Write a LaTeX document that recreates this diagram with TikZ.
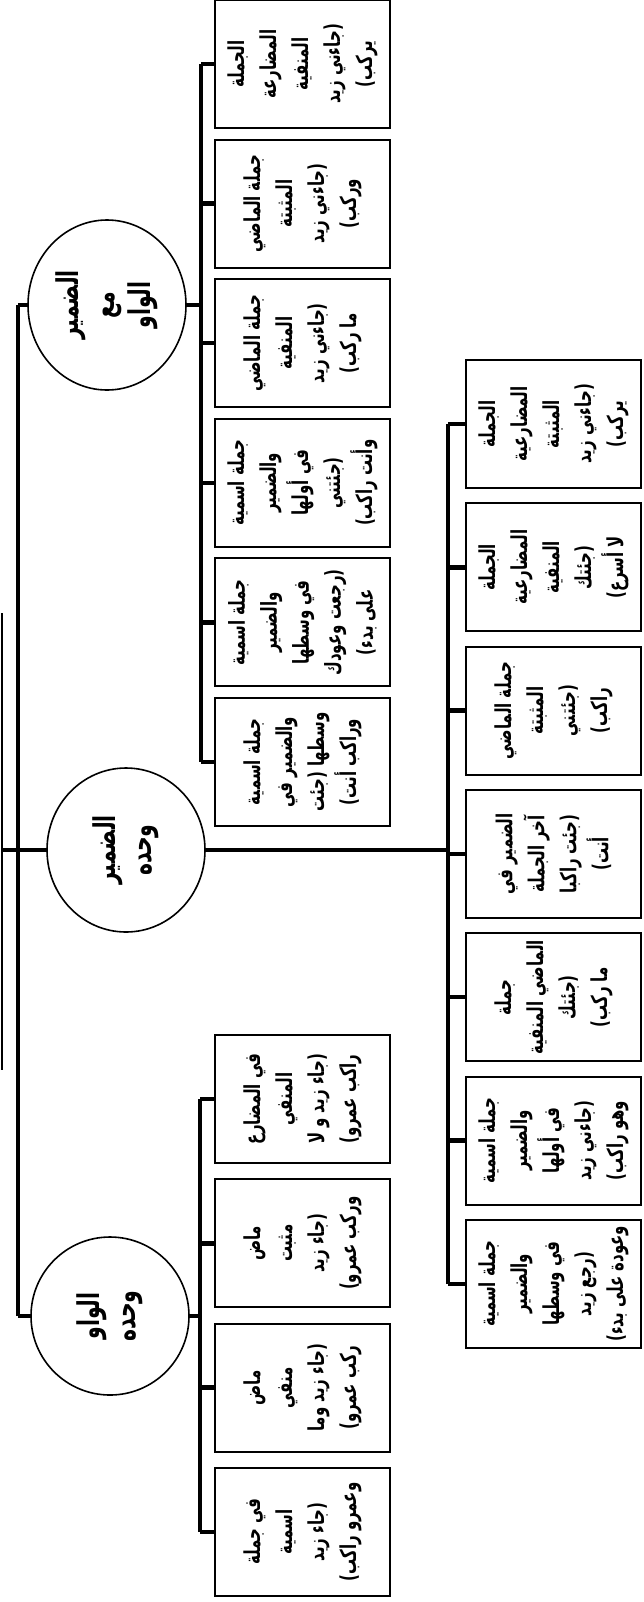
\documentclass[tikz,border=0pt]{standalone}
\usepackage{fontspec}
\newfontfamily\arabicfont[Script=Arabic,FakeStretch=0.68]{DejaVu Sans}
\TeXXeTstate=1
\usetikzlibrary{shapes.geometric,calc}
\newcommand{\arl}[1]{\beginR #1\endR}
\tikzset{BOX/.style={rectangle,draw,line width=1pt,minimum width=64pt,minimum height=87.5pt,inner sep=1pt,align=center,rotate=90,font=\arabicfont\bfseries\fontsize{11}{16}\selectfont}}
\tikzset{GROUP/.style={ellipse,draw,line width=0.8pt,minimum width=82pt,minimum height=79pt,inner sep=0pt,align=center,rotate=90,font=\arabicfont\bfseries\fontsize{15}{18}\selectfont}}
\tikzset{LINK/.style={line width=2.2pt}}

\begin{document}
\begin{tikzpicture}[x=0.5pt,y=-0.5pt]
\useasboundingbox (0,0) rectangle (643,1602);

\node[GROUP, minimum width=85pt] (n_wd) at (107,305) {\arl{الضمير}\\\arl{مع}\\\arl{الواو}};
\node[GROUP] (n_d) at (126,850) {\arl{الضمير}\\\arl{وحده}};
\node[GROUP, minimum width=79pt] (n_w) at (110,1316) {\arl{الواو}\\\arl{وحده}};

\coordinate (c_root_top) at (1.5,613);
\coordinate (c_root_bot) at (1.5,1070);
\draw[line width=1pt] (c_root_top) -- (c_root_bot);
\draw[LINK] (n_d.north -| c_root_top) -- (n_d.north);

\coordinate (c_bus) at (18,0);
\draw[LINK] (n_wd.north -| c_bus) -- (n_w.north -| c_bus);
\draw[LINK] (n_wd.north -| c_bus) -- (n_wd.north);
\draw[LINK] (n_w.north -| c_bus) -- (n_w.north);

% pronoun with waw
\node[BOX] (n_wd1) at (302.5,64) {\arl{الجملة}\\\arl{المضارعة}\\\arl{المنفية}\\\arl{(جاءني زيد}\\\arl{يركب)}};
\node[BOX] (n_wd2) at ($(n_wd1)+(0,139.6)$) {\arl{جملة الماضي}\\\arl{المثبتة}\\\arl{(جاءني زيد}\\\arl{وركب)}};
\node[BOX] (n_wd3) at ($(n_wd2)+(0,139.6)$) {\arl{جملة الماضي}\\\arl{المنفية}\\\arl{(جاءني زيد}\\\arl{ما ركب)}};
\node[BOX] (n_wd4) at ($(n_wd3)+(0,139.6)$) {\arl{جملة اسمية}\\\arl{والضمير}\\\arl{في أولها}\\\arl{(جئتني}\\\arl{وأنت راكب)}};
\node[BOX] (n_wd5) at ($(n_wd4)+(0,139.6)$) {\arl{جملة اسمية}\\\arl{والضمير}\\\arl{في وسطها}\\\arl{(رجعت وعودك}\\\arl{على بدء)}};
\node[BOX] (n_wd6) at ($(n_wd5)+(0,139.6)$) {\arl{جملة اسمية}\\\arl{والضمير في}\\\arl{وسطها (جئت}\\\arl{وراكب أنت)}};

\coordinate (c_bus_wd) at (201,0);
\draw[LINK] (n_wd.south) -- (n_wd.south -| c_bus_wd);
\draw[LINK] (n_wd1.north -| c_bus_wd) -- (n_wd6.north -| c_bus_wd);
\draw[LINK] (n_wd1.north -| c_bus_wd) -- (n_wd1.north);
\draw[LINK] (n_wd2.north -| c_bus_wd) -- (n_wd2.north);
\draw[LINK] (n_wd3.north -| c_bus_wd) -- (n_wd3.north);
\draw[LINK] (n_wd4.north -| c_bus_wd) -- (n_wd4.north);
\draw[LINK] (n_wd5.north -| c_bus_wd) -- (n_wd5.north);
\draw[LINK] (n_wd6.north -| c_bus_wd) -- (n_wd6.north);

% pronoun alone
\node[BOX] (n_d1) at (553.5,424) {\arl{الجملة}\\\arl{المضارعية}\\\arl{المثبتة}\\\arl{(جاءني زيد}\\\arl{يركب)}};
\node[BOX] (n_d2) at ($(n_d1)+(0,143.3)$) {\arl{الجملة}\\\arl{المضارعية}\\\arl{المنفية}\\\arl{(جئتك}\\\arl{لا أسرع)}};
\node[BOX] (n_d3) at ($(n_d2)+(0,143.3)$) {\arl{جملة الماضي}\\\arl{المثبتة}\\\arl{(جئتني}\\\arl{راكب)}};
\node[BOX] (n_d4) at ($(n_d3)+(0,143.3)$) {\arl{الضمير في}\\\arl{آخر الجملة}\\\arl{(جئت راكبا}\\\arl{أنت)}};
\node[BOX] (n_d5) at ($(n_d4)+(0,143.3)$) {\arl{جملة}\\\arl{الماضي المنفية}\\\arl{(جئتك}\\\arl{ما ركب)}};
\node[BOX] (n_d6) at ($(n_d5)+(0,143.3)$) {\arl{جملة اسمية}\\\arl{والضمير}\\\arl{في أولها}\\\arl{(جاءني زيد}\\\arl{وهو راكب)}};
\node[BOX] (n_d7) at ($(n_d6)+(0,143.3)$) {\arl{جملة اسمية}\\\arl{والضمير}\\\arl{في وسطها}\\\arl{(رجع زيد}\\\arl{وعودة على بدء)}};

\coordinate (c_bus_d) at (448,0);
\draw[LINK] (n_d.south) -- (n_d.south -| c_bus_d);
\draw[LINK] (n_d1.north -| c_bus_d) -- (n_d7.north -| c_bus_d);
\draw[LINK] (n_d1.north -| c_bus_d) -- (n_d1.north);
\draw[LINK] (n_d2.north -| c_bus_d) -- (n_d2.north);
\draw[LINK] (n_d3.north -| c_bus_d) -- (n_d3.north);
\draw[LINK] (n_d4.north -| c_bus_d) -- (n_d4.north);
\draw[LINK] (n_d5.north -| c_bus_d) -- (n_d5.north);
\draw[LINK] (n_d6.north -| c_bus_d) -- (n_d6.north);
\draw[LINK] (n_d7.north -| c_bus_d) -- (n_d7.north);

% waw alone
\node[BOX] (n_w1) at (302.5,1099) {\arl{في المضارع}\\\arl{المنفي}\\\arl{(جاء زيد و لا}\\\arl{راكب عمرو)}};
\node[BOX] (n_w2) at ($(n_w1)+(0,144.3)$) {\arl{ماض}\\\arl{مثبت}\\\arl{(جاء زيد}\\\arl{وركب عمرو)}};
\node[BOX] (n_w3) at ($(n_w2)+(0,144.3)$) {\arl{ماض}\\\arl{منفي}\\\arl{(جاء زيد وما}\\\arl{ركب عمرو)}};
\node[BOX] (n_w4) at ($(n_w3)+(0,144.3)$) {\arl{في جملة}\\\arl{اسمية}\\\arl{(جاء زيد}\\\arl{وعمرو راكب)}};

\coordinate (c_bus_w) at (200,0);
\draw[LINK] (n_w.south) -- (n_w.south -| c_bus_w);
\draw[LINK] (n_w1.north -| c_bus_w) -- (n_w4.north -| c_bus_w);
\draw[LINK] (n_w1.north -| c_bus_w) -- (n_w1.north);
\draw[LINK] (n_w2.north -| c_bus_w) -- (n_w2.north);
\draw[LINK] (n_w3.north -| c_bus_w) -- (n_w3.north);
\draw[LINK] (n_w4.north -| c_bus_w) -- (n_w4.north);

\end{tikzpicture}
\end{document}
